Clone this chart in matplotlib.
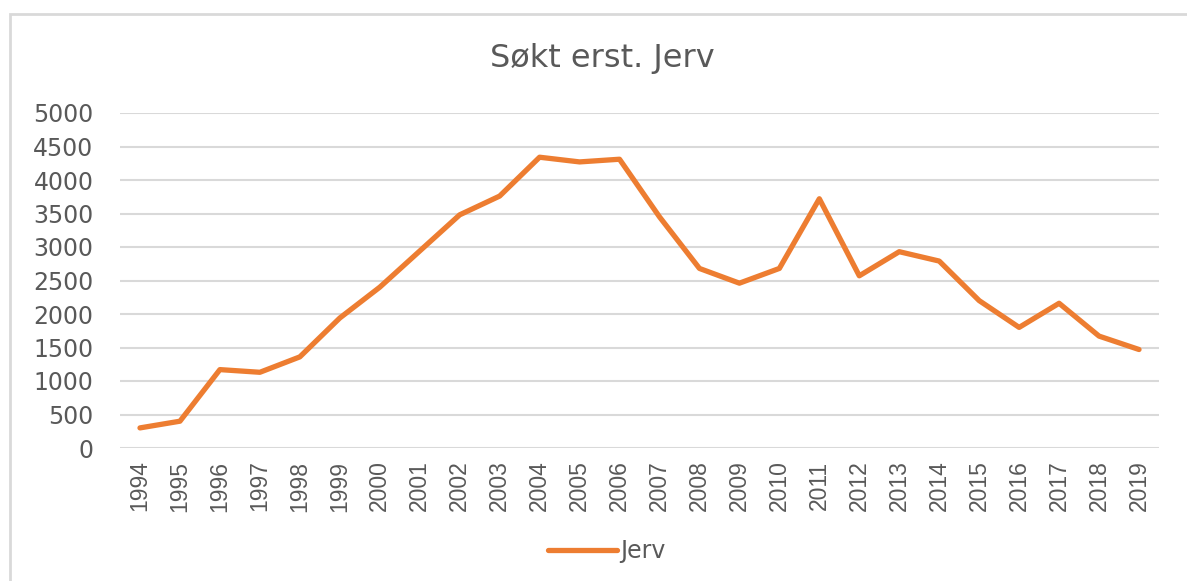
import matplotlib
matplotlib.use("Agg")
import matplotlib.pyplot as plt
from matplotlib.patches import Rectangle

# values
years = [str(y) for y in range(1994, 2020)]
jerv = [300, 400, 1170, 1130, 1360, 1940, 2400, 2940, 3480, 3760,
        4340, 4270, 4310, 3450, 2680, 2460, 2680, 3720, 2570, 2930,
        2790, 2200, 1800, 2160, 1670, 1470]
yticks = list(range(0, 5001, 500))

W, H = 1187, 581
ORANGE = "#ED7D31"
GRID = "#D9D9D9"
TEXT = "#595959"

fig = plt.figure(figsize=(W / 100, H / 100), dpi=100)
fig.patch.set_facecolor("white")

# outer chart border (cut off on the right and bottom in the reference)
fig.patches.append(Rectangle((10 / W, -0.1), 1.2, (H - 14) / H + 0.1,
                             transform=fig.transFigure, fill=False,
                             edgecolor=GRID, linewidth=2))

ax = fig.add_axes([120 / W, 133 / H, (1159 - 120) / W, (448 - 113) / H])
x = list(range(len(years)))
line, = ax.plot(x, jerv, color=ORANGE, linewidth=3.8,
                solid_joinstyle="round", solid_capstyle="round", label="Jerv",
                zorder=3)

ax.set_xlim(-0.5, len(years) - 0.5)
ax.set_ylim(0, 5000)
ax.set_yticks(yticks)
ax.set_yticklabels([str(v) for v in yticks], fontsize=17,
                   family="DejaVu Sans", color=TEXT)
ax.set_xticks(x)
ax.set_xticklabels(years, rotation=90, fontsize=16.5,
                   family="Liberation Sans", color=TEXT)
ax.tick_params(axis="y", length=0, pad=19)
ax.tick_params(axis="x", length=0, pad=9)
ax.grid(axis="y", color=GRID, linewidth=1.5)
ax.set_axisbelow(True)
for s in ax.spines.values():
    s.set_visible(False)

fig.text(602 / W, 1 - 59 / H, "Søkt erst. Jerv", ha="center", va="center",
         fontsize=23, family="DejaVu Sans", color=TEXT)

fig.legend(handles=[line], loc="center", bbox_to_anchor=(607 / W, 1 - 551 / H),
           frameon=False, handlelength=2.9, handletextpad=0.15,
           prop={"family": "DejaVu Sans", "size": 17}, labelcolor=TEXT)

fig.savefig("out.png", dpi=100)
